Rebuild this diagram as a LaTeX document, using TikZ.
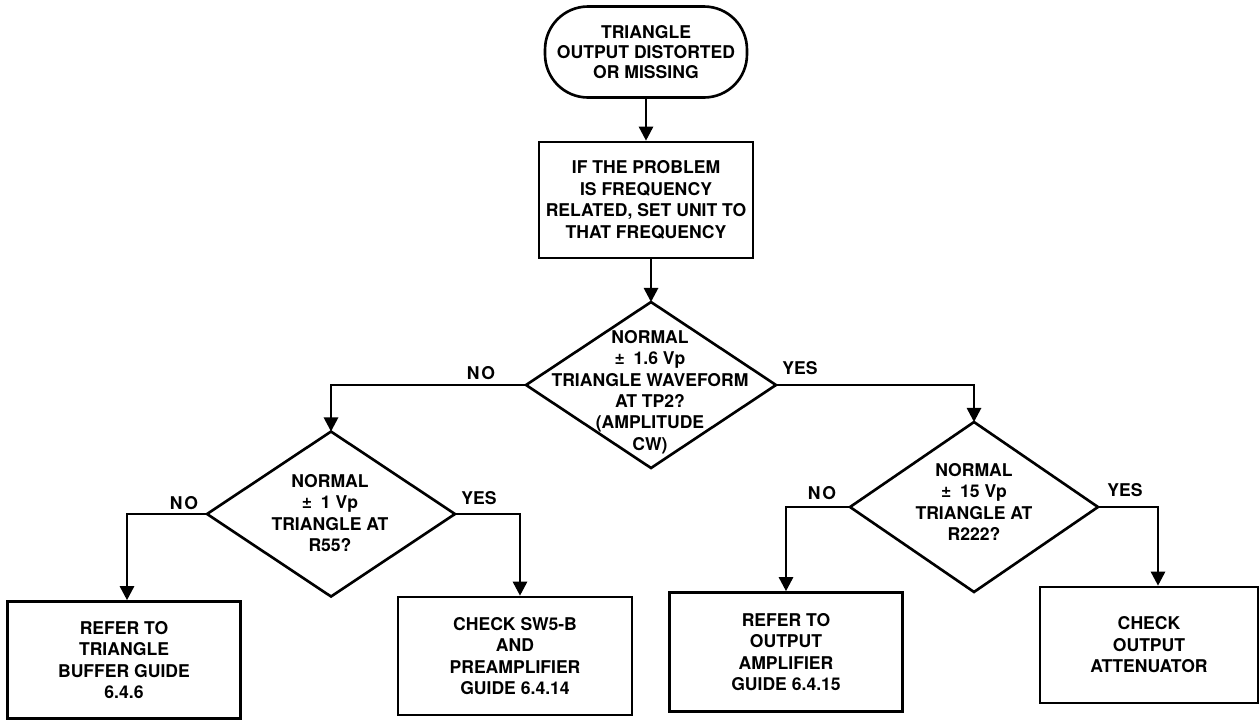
\documentclass[tikz,border=0pt]{standalone}
\usepackage{fontspec}
\setmainfont{TeX Gyre Heros}
\usetikzlibrary{shapes.geometric,arrows.meta}
\begin{document}
\begin{tikzpicture}[x=0.02cm,y=-0.02cm,
  line width=1.5pt,
  font=\fontsize{10}{12.2}\selectfont\bfseries,
  conn/.style={-{Triangle[width=8pt,length=8pt]}},
  wire/.style={line join=miter},
  termbox/.style={draw,rounded corners=0.86cm,minimum width=4.04cm,minimum height=1.82cm,align=center,inner sep=0pt},
  procbox/.style={draw,align=center,inner sep=0pt},
  decbox/.style={draw,diamond,inner sep=0pt,outer sep=0pt},
  dectext/.style={align=center,inner sep=0pt},
  answer/.style={inner sep=0pt}
]
\useasboundingbox (0,0) rectangle (1260,721);

% start and first step
\node[termbox,font=\fontsize{10}{11.4}\selectfont\bfseries] (start) at (646,52) {TRIANGLE\\OUTPUT DISTORTED\\OR MISSING};
\node[procbox,minimum width=4.28cm,minimum height=2.32cm] (freq) at (646,200) {IF THE PROBLEM\\IS FREQUENCY\\RELATED, SET UNIT TO\\THAT FREQUENCY};

% decisions
\node[decbox,minimum width=5.0cm,minimum height=3.32cm] (d1) at (651,385) {};
\node[dectext] (d1t) at (650,392) {NORMAL\\±\enspace 1.6 Vp\\TRIANGLE WAVEFORM\\AT TP2?\\(AMPLITUDE\\CW)};

\node[decbox,minimum width=4.96cm,minimum height=3.3cm] (d2) at (331,514) {};
\node[dectext] (d2t) at (330,513) {NORMAL\\±\enspace 1 Vp\\TRIANGLE AT\\R55?};

\node[decbox,minimum width=4.96cm,minimum height=3.4cm] (d3) at (974,507) {};
\node[dectext] (d3t) at (974,502) {NORMAL\\±\enspace 15 Vp\\TRIANGLE AT\\R222?};

% outcomes
\node[procbox,minimum width=4.66cm,minimum height=2.34cm] (b1) at (124,660) {REFER TO\\TRIANGLE\\BUFFER GUIDE\\6.4.6};
\node[procbox,minimum width=4.68cm,minimum height=2.36cm] (b2) at (515,656) {CHECK SW5-B\\AND\\PREAMPLIFIER\\GUIDE 6.4.14};
\node[procbox,minimum width=4.66cm,minimum height=2.38cm] (b3) at (786,652) {REFER TO\\OUTPUT\\AMPLIFIER\\GUIDE 6.4.15};
\node[procbox,minimum width=4.36cm,minimum height=2.32cm] (b4) at (1149,645) {CHECK\\OUTPUT\\ATTENUATOR};

% connectors
\draw[conn] (start.south) -- (freq.north);
\draw[conn] (freq.south -| d1.north) -- (d1.north);
\draw[conn,wire] (d1.west) -| (d2.north);
\draw[conn,wire] (d1.east) -| (d3.north);
\draw[conn,wire] (d2.west) -| ([xshift=0.06cm]b1.north);
\draw[conn,wire] (d2.east) -| ([xshift=0.1cm]b2.north);
\draw[conn,wire] (d3.west) -| (b3.north);
\draw[conn,wire] (d3.east) -| ([xshift=0.18cm]b4.north);

% branch labels
\node[answer] (n1) at (481,373) {N\kern1pt O};
\node[answer] (y1) at (800,368) {YES};
\node[answer] (n2) at (184,503) {N\kern1pt O};
\node[answer] (y2) at (479,498) {YES};
\node[answer] (n3) at (822,493) {N\kern1pt O};
\node[answer] (y3) at (1125,490) {YES};
\end{tikzpicture}
\end{document}
